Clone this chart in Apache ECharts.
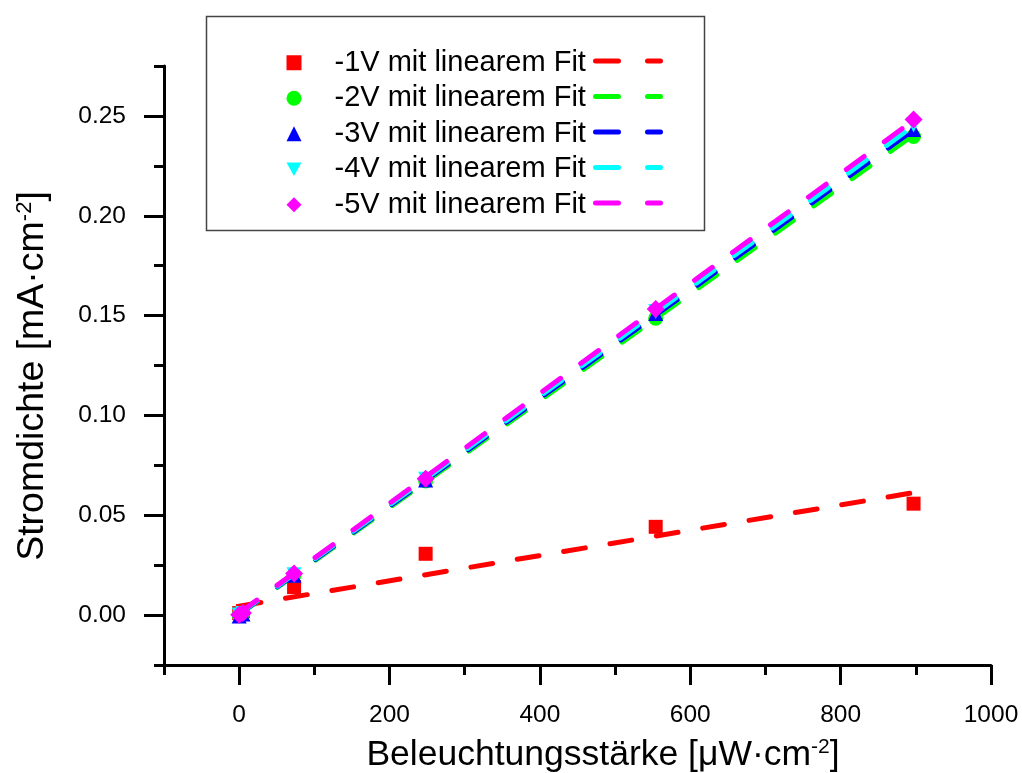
<!DOCTYPE html>
<html>
<head>
<meta charset="utf-8">
<script src="https://cdn.jsdelivr.net/npm/echarts@6/dist/echarts.min.js"></script>
<style>
html,body{margin:0;padding:0;background:#fff;}
#c{width:1022px;height:773px;}
</style>
</head>
<body>
<div id="c"></div>
<script>
// ---- data ----
var xValues = [0, 5, 73, 248, 554, 897];
var v1 = [0.0010, 0.0020, 0.0140, 0.0307, 0.0442, 0.0558];
var v2 = [0.0000, 0.0010, 0.0198, 0.0672, 0.1487, 0.2397];
var v3 = [-0.0005, 0.0005, 0.0200, 0.0677, 0.1510, 0.2432];
var v4 = [0.0000, 0.0008, 0.0202, 0.0680, 0.1520, 0.2455];
var v5 = [0.0002, 0.0010, 0.0208, 0.0683, 0.1533, 0.2482];
var fitX = [0, 897];
var fit1 = [0.0045, 0.0613];
var fit2 = [0.0003, 0.2405];
var fit3 = [0.0005, 0.2430];
var fit4 = [0.0007, 0.2450];
var fit5 = [0.0010, 0.2478];
var names = ['-1V mit linearem Fit', '-2V mit linearem Fit', '-3V mit linearem Fit', '-4V mit linearem Fit', '-5V mit linearem Fit'];
var fitNames = ['fit -1V', 'fit -2V', 'fit -3V', 'fit -4V', 'fit -5V'];
var xMajorTicks = [0, 200, 400, 600, 800, 1000];
var xMinorTicks = [-100, 100, 300, 500, 700, 900];
var yMajorTicks = [0, 0.05, 0.10, 0.15, 0.20, 0.25];
var yMinorTicks = [-0.025, 0.025, 0.075, 0.125, 0.175, 0.225, 0.275];

var colors = ['#ff0000', '#00ff00', '#0000ff', '#00ffff', '#ff00ff'];
var symbols = ['rect', 'circle', 'triangle', 'path://M0,0 L10,0 L5,9 Z', 'diamond'];
var symbolSizes = [14, 15, 15, 15, 18];
var dashIcon = 'path://M2.5,0 H25.5 A2.5,2.5 0 0 1 25.5,5 H2.5 A2.5,2.5 0 0 1 2.5,0 Z M54.5,0 H67.5 A2.5,2.5 0 0 1 67.5,5 H54.5 A2.5,2.5 0 0 1 54.5,0 Z';

function pairs(xs, ys) { return xs.map(function (x, i) { return [x, ys[i]]; }); }
var pts = [v1, v2, v3, v4, v5];
var fits = [fit1, fit2, fit3, fit4, fit5];

var FONT = '"Liberation Sans", Arial, sans-serif';
var series = [];
for (var i = 0; i < 5; i++) {
  series.push({
    name: fitNames[i], type: 'line', data: pairs(fitX, fits[i]),
    symbol: 'none', z: 2 + i * 2,
    lineStyle: { color: colors[i], width: 5, type: [22, 25], cap: 'round' },
    itemStyle: { color: colors[i] }, silent: true, animation: false
  });
  series.push({
    name: names[i], type: 'scatter', data: pairs(xValues, pts[i]),
    symbol: symbols[i], symbolSize: symbolSizes[i], z: 3 + i * 2,
    itemStyle: { color: colors[i], opacity: 1 }, animation: false
  });
}

var chart = echarts.init(document.getElementById('c'), null, { renderer: 'canvas' });
var axisLine = { show: true, onZero: false, lineStyle: { color: '#000', width: 3 } };
chart.setOption({
  backgroundColor: '#fff',
  animation: false,
  grid: { left: 164, right: 31, top: 66, bottom: 108, containLabel: false, outerBoundsMode: 'none' },
  xAxis: [{
    type: 'value', min: -100, max: 1000, interval: 100, position: 'bottom', offset: 0,
    axisLine: axisLine,
    axisTick: { show: true, length: 20, customValues: xMajorTicks, lineStyle: { color: '#000', width: 3 } },
    axisLabel: { customValues: xMajorTicks, margin: 38, fontSize: 24.5, color: '#000', fontFamily: FONT,
      formatter: function (v) { return String(v); } },
    splitLine: { show: false },
    name: 'Beleuchtungsstärke [μW·cm{sup|-2}]', nameLocation: 'middle', nameGap: 72,
    nameTextStyle: { fontSize: 35.5, color: '#000', fontFamily: FONT, padding: [0, 0, 0, 51],
      rich: { sup: { fontSize: 21, verticalAlign: 'top', color: '#000', fontFamily: FONT } } }
  }, {
    type: 'value', min: -100, max: 1000, interval: 100, position: 'bottom', offset: 0,
    axisLine: { show: false, onZero: false },
    axisTick: { show: true, length: 10, customValues: xMinorTicks, lineStyle: { color: '#000', width: 3 } },
    axisLabel: { show: false }, splitLine: { show: false }
  }],
  yAxis: [{
    type: 'value', min: -0.025, max: 0.275, interval: 0.025, position: 'left', offset: 0,
    axisLine: axisLine,
    axisTick: { show: true, length: 20, customValues: yMajorTicks, lineStyle: { color: '#000', width: 3 } },
    axisLabel: { customValues: yMajorTicks, margin: 38, fontSize: 24.5, color: '#000', fontFamily: FONT,
      formatter: function (v) { return v.toFixed(2); } },
    splitLine: { show: false },
    name: 'Stromdichte [mA·cm{sup|-2}]', nameLocation: 'middle', nameGap: 112,
    nameTextStyle: { fontSize: 37.5, color: '#000', fontFamily: FONT, padding: [0, 21, 0, 0],
      rich: { sup: { fontSize: 22, verticalAlign: 'top', color: '#000', fontFamily: FONT } } }
  }, {
    type: 'value', min: -0.025, max: 0.275, interval: 0.025, position: 'left', offset: 0,
    axisLine: { show: false, onZero: false },
    axisTick: { show: true, length: 10, customValues: yMinorTicks, lineStyle: { color: '#000', width: 3 } },
    axisLabel: { show: false }, splitLine: { show: false }
  }],
  legend: [{
    data: names, orient: 'vertical', left: 286.5, top: 45, padding: 0,
    itemWidth: 15, itemHeight: 15, itemGap: 0,
    formatter: function (n) { return '{p|}' + n; },
    textStyle: { fontSize: 29, color: '#000', fontFamily: FONT, lineHeight: 35.5,
      rich: { p: { width: 28 } } },
    selectedMode: false
  }, {
    data: fitNames.map(function (n) { return { name: n, icon: dashIcon }; }),
    orient: 'vertical', left: 593, top: 58.5, padding: 0,
    itemWidth: 70, itemHeight: 5, itemGap: 30.5,
    formatter: function () { return ''; },
    selectedMode: false
  }],
  graphic: [{
    type: 'rect', left: 204, top: 14, z: 100, silent: true,
    shape: { width: 498, height: 214 },
    style: { fill: null, stroke: '#444', lineWidth: 1.5 }
  }],
  series: series
});
</script>
</body>
</html>
